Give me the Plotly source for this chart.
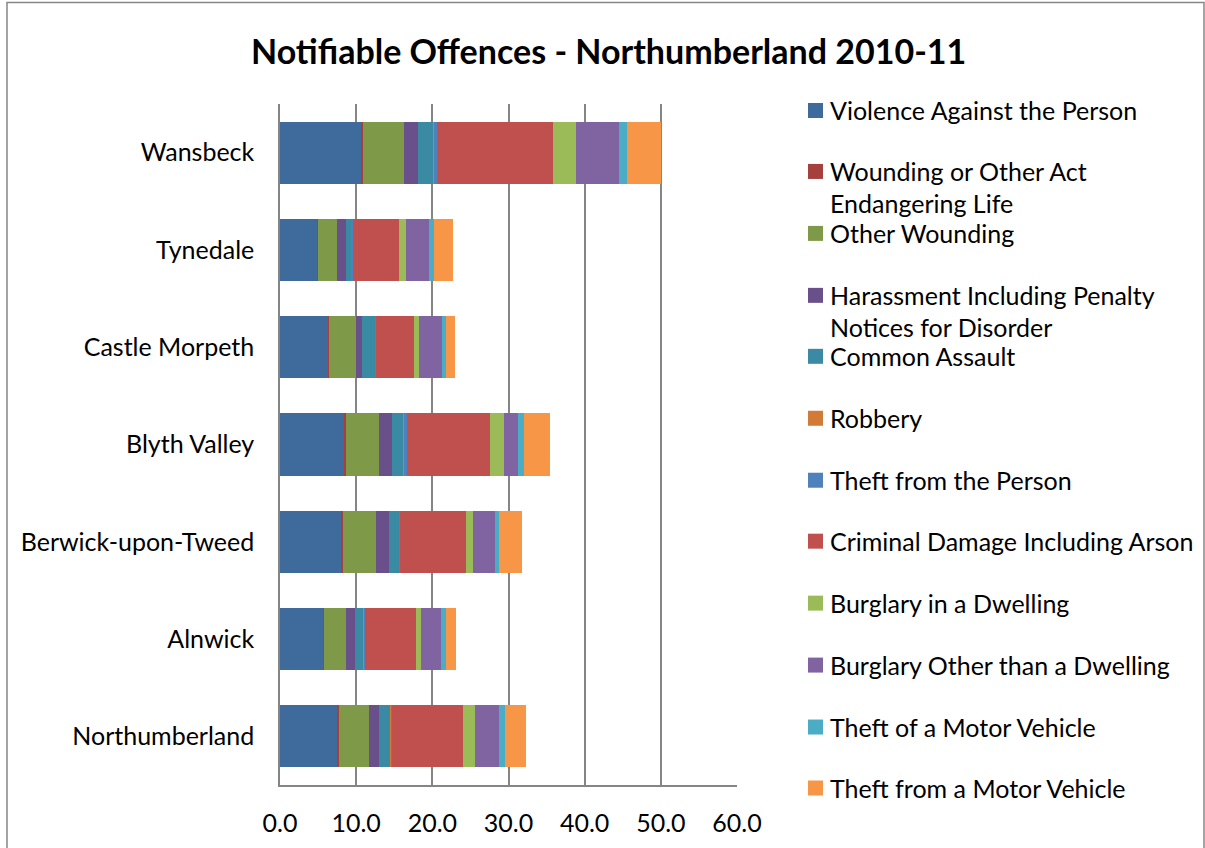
import plotly.graph_objects as go

# ---------------- data ----------------
areas = ["Northumberland", "Alnwick", "Berwick-upon-Tweed", "Blyth Valley",
         "Castle Morpeth", "Tynedale", "Wansbeck"]

series_names = [
    "Violence Against the Person",
    "Wounding or Other Act Endangering Life",
    "Other Wounding",
    "Harassment Including Penalty Notices for Disorder",
    "Common Assault",
    "Robbery",
    "Theft from the Person",
    "Criminal Damage Including Arson",
    "Burglary in a Dwelling",
    "Burglary Other than a Dwelling",
    "Theft of a Motor Vehicle",
    "Theft from a Motor Vehicle",
]

legend_labels = [
    "Violence Against the Person",
    "Wounding or Other Act<br>Endangering Life",
    "Other Wounding",
    "Harassment Including Penalty<br>Notices for Disorder",
    "Common Assault",
    "Robbery",
    "Theft from the Person",
    "Criminal Damage Including Arson",
    "Burglary in a Dwelling",
    "Burglary Other than a Dwelling",
    "Theft of a Motor Vehicle",
    "Theft from a Motor Vehicle",
]

violence = [7.55, 5.7, 8.1, 8.45, 6.35, 4.95, 10.7]
wounding_life = [0.2, 0.1, 0.15, 0.2, 0.1, 0.1, 0.25]
other_wounding = [3.95, 2.9, 4.4, 4.35, 3.5, 2.4, 5.35]
harassment = [1.35, 1.2, 1.7, 1.75, 0.8, 1.15, 1.85]
common_assault = [1.45, 1.1, 1.3, 1.45, 1.75, 0.75, 2.0]
robbery = [0.1, 0.05, 0.05, 0.2, 0.1, 0.1, 0.15]
theft_person = [0.15, 0.05, 0.05, 0.25, 0.05, 0.1, 0.25]
criminal_damage = [9.3, 6.75, 8.7, 10.95, 4.9, 6.1, 15.3]
burglary_dwelling = [1.5, 0.65, 0.85, 1.8, 0.7, 0.9, 3.0]
burglary_other = [3.25, 2.65, 2.95, 1.9, 3.0, 3.05, 5.6]
theft_of_mv = [0.8, 0.65, 0.55, 0.8, 0.55, 0.65, 1.15]
theft_from_mv = [2.7, 1.25, 3.0, 3.4, 1.2, 2.4, 4.4]

series_values = [violence, wounding_life, other_wounding, harassment,
                 common_assault, robbery, theft_person, criminal_damage,
                 burglary_dwelling, burglary_other, theft_of_mv, theft_from_mv]

colors = ["#3F6B9C", "#A5403D", "#7E9A48", "#69508A", "#3B8AA3", "#D17B36",
          "#4F81BD", "#C0504D", "#9BBB59", "#8064A2", "#4BACC6", "#F79646"]

x_ticks = [0, 10, 20, 30, 40, 50, 60]

# ---------------- layout geometry (pixels) ----------------
W, H = 1205, 848
PL, PR, PT, PB = 280, 737, 103.5, 785
FONT = "Lato"
GRID = "#858585"
FS = 25


def px(x):
    return (x - PL) / (PR - PL)


def py(y):
    return (PB - y) / (PB - PT)


fig = go.Figure()
for name, vals, col in zip(series_names, series_values, colors):
    fig.add_trace(go.Bar(
        y=areas, x=vals, name=name, orientation="h",
        marker=dict(color=col, line=dict(width=0)),
        showlegend=False,
    ))

shapes = [
    dict(type="rect", xref="paper", yref="paper",
         x0=px(7), x1=px(1204), y0=py(860), y1=py(2),
         line=dict(color="#868686", width=1.5), fillcolor="rgba(0,0,0,0)",
         layer="below"),
]
annotations = [
    dict(text="<b>Notifiable Offences - Northumberland 2010-11</b>",
         xref="paper", yref="paper", x=px(608), y=py(50),
         xanchor="center", yanchor="middle", showarrow=False,
         font=dict(family=FONT, size=34, color="#000000")),
]

legend_y = [110, 171, 233, 295, 356, 418, 480, 541, 603, 665, 727, 788]
for label, col, ly in zip(legend_labels, colors, legend_y):
    shapes.append(dict(type="rect", xref="paper", yref="paper",
                       x0=px(808), x1=px(823), y0=py(ly + 7.5), y1=py(ly - 7.5),
                       fillcolor=col, line=dict(width=0)))
    for k, line in enumerate(label.split("<br>")):
        annotations.append(dict(text=line, xref="paper", yref="paper",
                                x=px(828), y=py(ly + 32 * k),
                                xanchor="left", yanchor="middle",
                                showarrow=False,
                                font=dict(family=FONT, size=FS, color="#000000")))

fig.update_layout(
    width=W, height=H, autosize=False,
    margin=dict(l=PL, r=W - PR, t=PT, b=H - PB, pad=0),
    paper_bgcolor="white", plot_bgcolor="white",
    barmode="stack", bargap=0.36,
    font=dict(family=FONT, size=FS, color="#000000"),
    shapes=shapes, annotations=annotations,
    xaxis=dict(range=[0, 60], tickvals=x_ticks, tickformat=".1f",
               showgrid=True, gridcolor=GRID, gridwidth=1.5,
               zeroline=False, showline=True, linecolor=GRID, linewidth=1.5,
               ticks="", ticklabelstandoff=15,
               tickfont=dict(family=FONT, size=FS, color="#000000")),
    yaxis=dict(type="category", categoryorder="array", categoryarray=areas,
               showgrid=False, zeroline=False, showline=True,
               linecolor=GRID, linewidth=1.5, ticks="",
               ticklabelstandoff=19,
               tickfont=dict(family=FONT, size=FS, color="#000000")),
)

fig.write_html("out.html")
